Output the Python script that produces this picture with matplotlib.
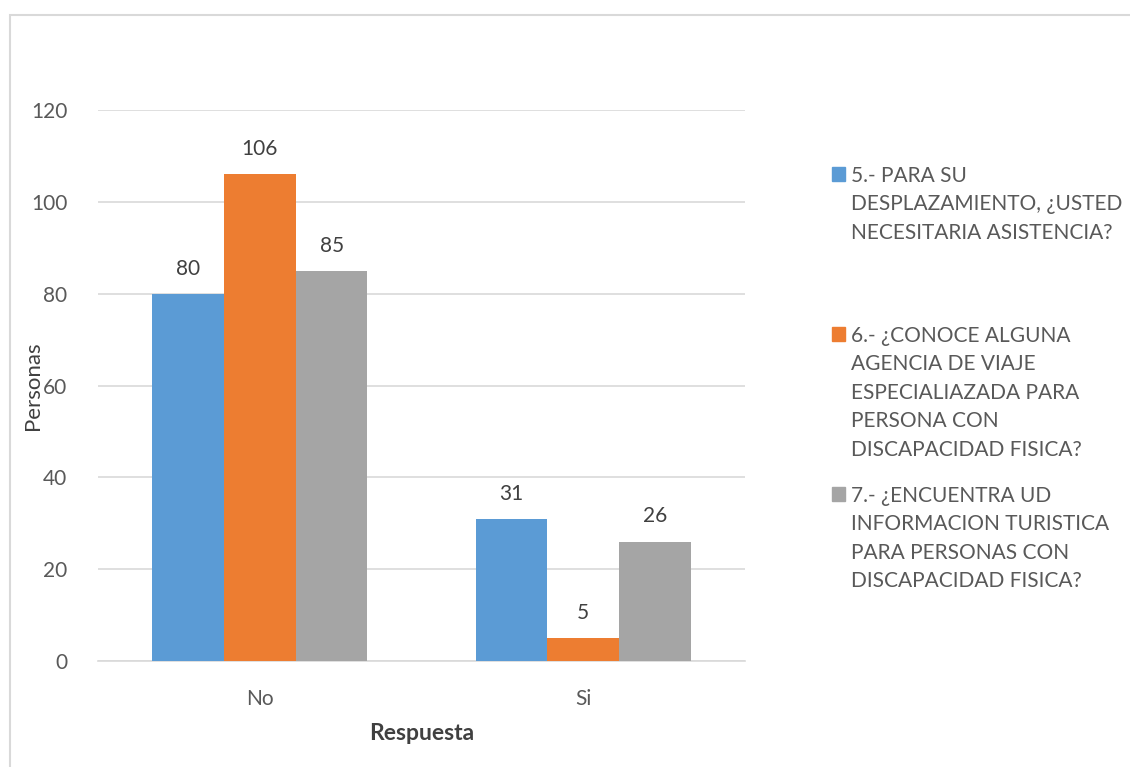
import matplotlib.pyplot as plt
from matplotlib.patches import Rectangle
import numpy as np

# data
categories = ['No', 'Si']
series_names = [
    '5.- PARA SU\nDESPLAZAMIENTO, ¿USTED\nNECESITARIA ASISTENCIA?',
    '6.- ¿CONOCE ALGUNA\nAGENCIA DE VIAJE\nESPECIALIAZADA PARA\nPERSONA CON\nDISCAPACIDAD FISICA?',
    '7.- ¿ENCUENTRA UD\nINFORMACION TURISTICA\nPARA PERSONAS CON\nDISCAPACIDAD FISICA?',
]
q5 = [80, 31]
q6 = [106, 5]
q7 = [85, 26]
colors = ['#5B9BD5', '#ED7D31', '#A5A5A5']

plt.rcParams['font.family'] = ['Lato', 'DejaVu Sans']
text_color = '#595959'
fs = 15

fig = plt.figure(figsize=(11.3, 7.67), dpi=100)
ax = fig.add_axes([98 / 1130, 1 - 661 / 767, 647 / 1130, (661 - 110) / 767])

# chart border
fig.patches.append(Rectangle((10 / 1130, -0.05), 1.1, 1 - 15 / 767 + 0.05,
                             transform=fig.transFigure, fill=False,
                             edgecolor='#D9D9D9', linewidth=1.5))

x = np.arange(len(categories))
w = 0.222
for i, vals in enumerate([q5, q6, q7]):
    ax.bar(x + (i - 1) * w, vals, w, color=colors[i], zorder=3)
    for xi, v in zip(x + (i - 1) * w, vals):
        ax.text(xi, v + 3.3, str(v), ha='center', va='bottom',
                fontsize=fs, color='#404040')

ax.set_xlim(-0.5, 1.5)
ax.set_ylim(0, 120)
ax.set_yticks(range(0, 121, 20))
ax.set_xticks(x)
ax.set_xticklabels(categories)
ax.grid(axis='y', color='#D9D9D9', linewidth=1.2, zorder=0)
for s in ['top', 'right', 'left']:
    ax.spines[s].set_visible(False)
ax.spines['bottom'].set_color('#D9D9D9')
ax.spines['bottom'].set_linewidth(1.2)
ax.tick_params(length=0, labelsize=fs, labelcolor=text_color)
ax.tick_params(axis='y', pad=22)
ax.tick_params(axis='x', pad=20)

ax.set_xlabel('Respuesta', fontsize=16.5, fontweight='bold', color='#404040', labelpad=10)
ax.set_ylabel('Personas', fontsize=16, color='#404040')
ax.yaxis.set_label_coords(-0.085, 0.5)

# legend, one entry per series
legend_tops = [167, 327, 487]
for c, name, top in zip(colors, series_names, legend_tops):
    fig.patches.append(Rectangle((832 / 1130, 1 - (top + 14) / 767), 13 / 1130, 14 / 767,
                                 transform=fig.transFigure, color=c))
    fig.text(851 / 1130, 1 - (top - 1) / 767, name, ha='left', va='top',
             fontsize=fs, color=text_color, linespacing=1.53)

fig.savefig('out.png', dpi=100)
